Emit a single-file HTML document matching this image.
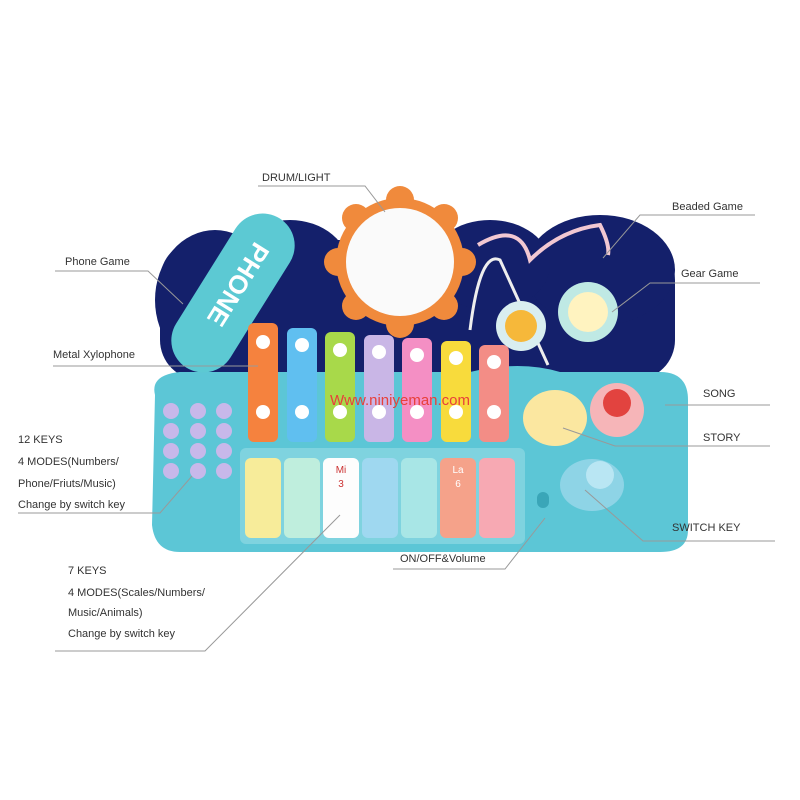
<!DOCTYPE html>
<html><head><style>
body{margin:0;width:800px;height:800px;background:#fff;position:relative;overflow:hidden;font-family:"Liberation Sans",sans-serif}
.t{position:absolute;font-size:11px;color:#333;line-height:12px;white-space:nowrap}
</style></head><body>
<svg width="800" height="800" style="position:absolute;left:0;top:0">
<!-- navy cloud -->
<g fill="#14206b">
<ellipse cx="215" cy="300" rx="60" ry="70"/>
<ellipse cx="290" cy="270" rx="60" ry="50"/>
<rect x="160" y="240" width="515" height="140" rx="40"/>
<ellipse cx="600" cy="270" rx="75" ry="55"/>
<ellipse cx="490" cy="265" rx="60" ry="45"/>
</g>
<!-- base -->
<path d="M155 395 Q150 375 180 372 L470 372 Q520 360 560 372 L660 372 Q688 372 688 400 L688 530 Q688 552 660 552 L180 552 Q155 552 152 525 Z" fill="#5cc6d6"/>
<rect x="240" y="448" width="285" height="96" rx="6" fill="#7fd3df"/>
<!-- phone -->
<g transform="translate(233,293) rotate(-58)">
<rect x="-88" y="-32" width="176" height="64" rx="32" fill="#5cc9d3"/>
<text x="-10" y="9" font-size="26" font-weight="bold" fill="#fff" text-anchor="middle" font-family="Liberation Sans" transform="rotate(180)">PHONE</text>
</g>
<!-- drum -->
<g fill="#f08a3c">
<circle cx="400" cy="262" r="64"/>
<circle cx="400" cy="200" r="14"/><circle cx="444" cy="218" r="14"/><circle cx="462" cy="262" r="14"/><circle cx="444" cy="306" r="14"/><circle cx="400" cy="324" r="14"/><circle cx="356" cy="306" r="14"/><circle cx="338" cy="262" r="14"/><circle cx="356" cy="218" r="14"/>
</g>
<circle cx="400" cy="262" r="54" fill="#fafafa"/>
<!-- beads wire -->
<path d="M478 245 Q520 220 530 260 Q560 230 600 225 Q610 245 608 255" fill="none" stroke="#f2c8d2" stroke-width="4"/>
<path d="M470 330 Q480 250 500 260 L548 365" fill="none" stroke="#eee" stroke-width="3"/>
<!-- gears -->
<circle cx="521" cy="326" r="25" fill="#d9eef0"/><circle cx="521" cy="326" r="16" fill="#f6b83a"/>
<circle cx="588" cy="312" r="30" fill="#bfe9e4"/><circle cx="588" cy="312" r="20" fill="#fff3c0"/>
<!-- xylophone -->
<g>
<rect x="248" y="323" width="30" height="119" rx="6" fill="#f5823e"/>
<rect x="287" y="328" width="30" height="114" rx="6" fill="#60bff0"/>
<rect x="325" y="332" width="30" height="110" rx="6" fill="#a8d94a"/>
<rect x="364" y="335" width="30" height="107" rx="6" fill="#c9b6e6"/>
<rect x="402" y="338" width="30" height="104" rx="6" fill="#f48fc4"/>
<rect x="441" y="341" width="30" height="101" rx="6" fill="#f8db3c"/>
<rect x="479" y="345" width="30" height="97" rx="6" fill="#f38d86"/>
</g>
<g fill="#fff">
<circle cx="263" cy="342" r="7"/><circle cx="263" cy="412" r="7"/>
<circle cx="302" cy="345" r="7"/><circle cx="302" cy="412" r="7"/>
<circle cx="340" cy="350" r="7"/><circle cx="340" cy="412" r="7"/>
<circle cx="379" cy="352" r="7"/><circle cx="379" cy="412" r="7"/>
<circle cx="417" cy="355" r="7"/><circle cx="417" cy="412" r="7"/>
<circle cx="456" cy="358" r="7"/><circle cx="456" cy="412" r="7"/>
<circle cx="494" cy="362" r="7"/><circle cx="494" cy="412" r="7"/>
</g>
<text x="400" y="405" font-size="15" fill="#e8403a" text-anchor="middle" font-family="Liberation Sans">Www.niniyeman.com</text>
<!-- piano keys -->
<g>
<rect x="245" y="458" width="36" height="80" rx="6" fill="#f7ec9a"/>
<rect x="284" y="458" width="36" height="80" rx="6" fill="#bfeedd"/>
<rect x="323" y="458" width="36" height="80" rx="6" fill="#fdfdfd"/>
<rect x="362" y="458" width="36" height="80" rx="6" fill="#9fd8f0"/>
<rect x="401" y="458" width="36" height="80" rx="6" fill="#a8e6e6"/>
<rect x="440" y="458" width="36" height="80" rx="6" fill="#f5a28a"/>
<rect x="479" y="458" width="36" height="80" rx="6" fill="#f7a9b3"/>
</g>
<text x="341" y="473" font-size="10" fill="#c33" text-anchor="middle">Mi</text>
<text x="341" y="487" font-size="10" fill="#c33" text-anchor="middle">3</text>
<text x="458" y="473" font-size="10" fill="#fff" text-anchor="middle">La</text>
<text x="458" y="487" font-size="10" fill="#fff" text-anchor="middle">6</text>
<!-- keypad -->
<g fill="#c8b8ea">
<circle cx="171" cy="411" r="8"/><circle cx="198" cy="411" r="8"/><circle cx="224" cy="411" r="8"/>
<circle cx="171" cy="431" r="8"/><circle cx="198" cy="431" r="8"/><circle cx="224" cy="431" r="8"/>
<circle cx="171" cy="451" r="8"/><circle cx="198" cy="451" r="8"/><circle cx="224" cy="451" r="8"/>
<circle cx="171" cy="471" r="8"/><circle cx="198" cy="471" r="8"/><circle cx="224" cy="471" r="8"/>
</g>
<!-- buttons -->
<circle cx="617" cy="410" r="27" fill="#f6b5b8"/><circle cx="617" cy="403" r="14" fill="#e2433f"/>
<ellipse cx="555" cy="418" rx="32" ry="28" fill="#fbe7a0"/>
<ellipse cx="592" cy="485" rx="32" ry="26" fill="#8ed4e6"/><circle cx="600" cy="475" r="14" fill="#b9e6f3"/>
<rect x="537" y="492" width="12" height="16" rx="6" fill="#3aa6b8"/>
<!-- leader lines -->
<g stroke="#999" stroke-width="1" fill="none">
<polyline points="258,186 365,186 385,212"/>
<polyline points="755,215 640,215 603,258"/>
<polyline points="55,271 148,271 183,304"/>
<polyline points="760,283 650,283 612,312"/>
<polyline points="53,366 258,366"/>
<polyline points="770,405 665,405"/>
<polyline points="563,428 615,446 770,446"/>
<polyline points="18,513 160,513 192,476"/>
<polyline points="585,490 643,541 775,541"/>
<polyline points="393,569 505,569 545,518"/>
<polyline points="55,651 205,651 340,515"/>
</g>
</svg>
<div class="t" style="left:262px;top:172px">DRUM/LIGHT</div>
<div class="t" style="left:672px;top:201px">Beaded Game</div>
<div class="t" style="left:65px;top:256px">Phone Game</div>
<div class="t" style="left:681px;top:268px">Gear Game</div>
<div class="t" style="left:53px;top:349px">Metal Xylophone</div>
<div class="t" style="left:703px;top:388px">SONG</div>
<div class="t" style="left:703px;top:432px">STORY</div>
<div class="t" style="left:18px;top:434px">12 KEYS</div>
<div class="t" style="left:18px;top:456px">4 MODES(Numbers/</div>
<div class="t" style="left:18px;top:478px">Phone/Friuts/Music)</div>
<div class="t" style="left:18px;top:499px">Change by switch key</div>
<div class="t" style="left:672px;top:522px">SWITCH KEY</div>
<div class="t" style="left:400px;top:553px">ON/OFF&amp;Volume</div>
<div class="t" style="left:68px;top:565px">7 KEYS</div>
<div class="t" style="left:68px;top:587px">4 MODES(Scales/Numbers/</div>
<div class="t" style="left:68px;top:607px">Music/Animals)</div>
<div class="t" style="left:68px;top:628px">Change by switch key</div>
</body></html>
